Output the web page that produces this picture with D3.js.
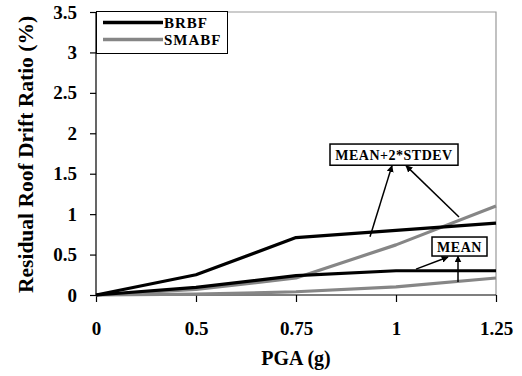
<!DOCTYPE html>
<html><head><meta charset="utf-8">
<script src="https://cdn.jsdelivr.net/npm/d3@7"></script>
<style>html,body{margin:0;padding:0;background:#fff;}svg{display:block;}</style>
</head><body><svg id="c" width="522" height="376"></svg>
<script>
const pga = [0, 0.5, 0.75, 1, 1.25];
const brbfMean2sd = [0, 0.25, 0.71, 0.80, 0.89];
const brbfMean = [0, 0.095, 0.24, 0.30, 0.30];
const smabfMean2sd = [0, 0.07, 0.21, 0.62, 1.10];
const smabfMean = [0, 0.01, 0.04, 0.10, 0.21];
const xTickLabels = ["0", "0.5", "0.75", "1", "1.25"];
const yTicks = [0, 0.5, 1, 1.5, 2, 2.5, 3, 3.5];
const seriesNames = ["BRBF", "SMABF"];

const svg = d3.select("#c");
const FONT = "'Liberation Serif', 'Times New Roman', 'DejaVu Serif', serif";
// Excel-style category axis: equally spaced PGA levels
const x = d3.scalePoint().domain(pga).range([96, 496]);
// continuous helper along the category axis (for annotations)
const xc = d3.scaleLinear().domain(pga).range(pga.map(p => x(p)));
const y = d3.scaleLinear().domain([0, 3.5]).range([295, 12]);

// frame (top/right gray)
svg.append("path").attr("d", `M${x(0)},${y(3.5)}H${x(1.25)}V${y(0)}`)
  .attr("fill", "none").attr("stroke", "#999").attr("stroke-width", 1.2);

// axes
const yAxis = d3.axisLeft(y).tickValues(yTicks).tickSize(6).tickPadding(13)
  .tickFormat(d => d3.format("")(d));
const gy = svg.append("g").attr("transform", `translate(${x(0)},0)`).call(yAxis);
const xAxis = d3.axisBottom(x).tickSize(7).tickPadding(20)
  .tickFormat((d, i) => xTickLabels[i]);
const gx = svg.append("g").attr("transform", `translate(0,${y(0)})`).call(xAxis);
[gx, gy].forEach(g => {
  g.attr("font-family", FONT);
  g.select(".domain").attr("stroke", "#000").attr("stroke-width", 1.2);
  g.selectAll(".tick line").attr("stroke", "#000").attr("stroke-width", 1.2);
  g.selectAll("text").style("font-family", FONT).attr("font-weight", "bold")
    .attr("font-size", 19).attr("fill", "#000");
});
gy.select(".domain").attr("d", `M0,${y(3.5)}V${y(0)}`);
gx.select(".domain").attr("d", `M${x(0)},0H${x(1.25)}`);

// lines
const line = d3.line().x((d, i) => x(pga[i])).y(d => y(d));
const series = [
  {v: smabfMean, c: "#868686"},
  {v: smabfMean2sd, c: "#868686"},
  {v: brbfMean, c: "#000"},
  {v: brbfMean2sd, c: "#000"}
];
series.forEach(s => {
  svg.append("path").datum(s.v).attr("d", line).attr("fill", "none")
    .attr("stroke", s.c).attr("stroke-width", 3.2).attr("stroke-linejoin", "round");
});

// legend
svg.append("rect").attr("x", 96.5).attr("y", 11.5).attr("width", 131).attr("height", 42)
  .attr("fill", "#fff").attr("stroke", "#000").attr("stroke-width", 1);
const legColors = ["#000", "#868686"];
seriesNames.forEach((n, i) => {
  const ly = 22.5 + i * 17;
  svg.append("line").attr("x1", 103).attr("x2", 163).attr("y1", ly).attr("y2", ly)
    .attr("stroke", legColors[i]).attr("stroke-width", 3.5);
  svg.append("text").attr("x", 164).attr("y", ly + 5).text(n)
    .style("font-family", FONT).attr("font-weight", "bold").attr("font-size", 15)
    .attr("letter-spacing", 1);
});

// arrow marker
svg.append("defs").append("marker").attr("id", "ah").attr("viewBox", "0 0 10 10")
  .attr("refX", 9).attr("refY", 5).attr("markerWidth", 7).attr("markerHeight", 7)
  .attr("markerUnits", "userSpaceOnUse").attr("orient", "auto")
  .append("path").attr("d", "M0,0L10,5L0,10Z").attr("fill", "#000");

// annotations (data units)
const boxes = [
  {label: "MEAN+2*STDEV", x0: 0.835, x1: 1.155, y0: 1.867, y1: 1.605, fs: 14},
  {label: "MEAN", x0: 1.09, x1: 1.2275, y0: 0.717, y1: 0.482, fs: 14}
];
const arrows = [
  {from: [0.935, 0.72], to: [0.99, 1.60]},
  {from: [1.1575, 0.965], to: [1.025, 1.60]},
  {from: [1.05, 0.32], to: [1.13, 0.47]},
  {from: [1.155, 0.16], to: [1.155, 0.48]}
];
arrows.forEach(a => {
  svg.append("line").attr("x1", xc(a.from[0])).attr("y1", y(a.from[1]))
    .attr("x2", xc(a.to[0])).attr("y2", y(a.to[1]))
    .attr("stroke", "#000").attr("stroke-width", 1.5).attr("marker-end", "url(#ah)");
});
boxes.forEach(b => {
  svg.append("rect").attr("x", xc(b.x0)).attr("y", y(b.y0))
    .attr("width", xc(b.x1) - xc(b.x0)).attr("height", y(b.y1) - y(b.y0))
    .attr("fill", "#fff").attr("stroke", "#000").attr("stroke-width", 1.5);
  svg.append("text").attr("x", (xc(b.x0) + xc(b.x1)) / 2).attr("y", (y(b.y0) + y(b.y1)) / 2 + 5)
    .attr("text-anchor", "middle").text(b.label)
    .style("font-family", FONT).attr("font-weight", "bold").attr("font-size", b.fs)
    .attr("letter-spacing", 0.5);
});

// axis titles
svg.append("text").attr("x", 296).attr("y", 365).attr("text-anchor", "middle")
  .text("PGA (g)").style("font-family", FONT).attr("font-weight", "bold").attr("font-size", 20);
svg.append("text").attr("transform", `translate(33,${(y(0) + y(3.5)) / 2 + 1}) rotate(-90)`)
  .attr("text-anchor", "middle").text("Residual Roof Drift Ratio (%)")
  .style("font-family", FONT).attr("font-weight", "bold").attr("font-size", 21.5);
</script></body></html>
